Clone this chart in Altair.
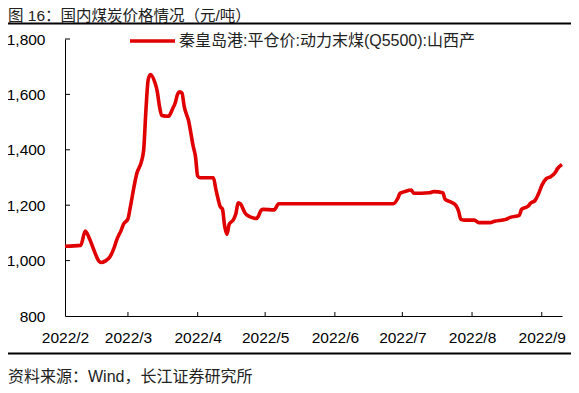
import altair as alt
import pandas as pd

# ---- data ----
dates = [
    "2022-02-01", "2022-02-08", "2022-02-10", "2022-02-12", "2022-02-14", "2022-02-16",
    "2022-02-17", "2022-02-19", "2022-02-21", "2022-02-23", "2022-02-24", "2022-02-26",
    "2022-02-27", "2022-03-01", "2022-03-02", "2022-03-04", "2022-03-05", "2022-03-07",
    "2022-03-08", "2022-03-09", "2022-03-10", "2022-03-11", "2022-03-13", "2022-03-14",
    "2022-03-15", "2022-03-16", "2022-03-19", "2022-03-21", "2022-03-22", "2022-03-23",
    "2022-03-24", "2022-03-25", "2022-03-26", "2022-03-28", "2022-03-30", "2022-03-31",
    "2022-04-01", "2022-04-02", "2022-04-08", "2022-04-09", "2022-04-10", "2022-04-11",
    "2022-04-12", "2022-04-13", "2022-04-14", "2022-04-15", "2022-04-17", "2022-04-18",
    "2022-04-19", "2022-04-20", "2022-04-22", "2022-04-23", "2022-04-25", "2022-04-27",
    "2022-04-28", "2022-04-29", "2022-04-30", "2022-05-05", "2022-05-07", "2022-06-27",
    "2022-06-29", "2022-06-30", "2022-07-02", "2022-07-05", "2022-07-06", "2022-07-13",
    "2022-07-15", "2022-07-19", "2022-07-20", "2022-07-23", "2022-07-25", "2022-07-26",
    "2022-07-27", "2022-07-29", "2022-08-02", "2022-08-04", "2022-08-09", "2022-08-11",
    "2022-08-16", "2022-08-18", "2022-08-22", "2022-08-23", "2022-08-26", "2022-08-27",
    "2022-08-29", "2022-08-31", "2022-09-01", "2022-09-03", "2022-09-05", "2022-09-07",
    "2022-09-08", "2022-09-10",
]
prices = [
    1052, 1055, 1107, 1077, 1035, 999,
    993, 999, 1014, 1050, 1075, 1110,
    1131, 1151, 1191, 1280, 1316, 1358,
    1401, 1545, 1653, 1672, 1642, 1612,
    1557, 1524, 1521, 1551, 1569, 1599,
    1609, 1605, 1557, 1503, 1413, 1377,
    1305, 1299, 1299, 1261, 1225, 1195,
    1186, 1124, 1095, 1131, 1149, 1170,
    1209, 1205, 1173, 1164, 1156, 1152,
    1160, 1179, 1185, 1183, 1205, 1205,
    1225, 1243, 1249, 1255, 1243, 1245,
    1249, 1245, 1222, 1210, 1197, 1179,
    1149, 1146, 1146, 1137, 1137, 1142,
    1149, 1156, 1163, 1185, 1197, 1207,
    1217, 1250, 1271, 1296, 1303, 1318,
    1332, 1347,
]
series_name = "秦皇岛港:平仓价:动力末煤(Q5500):山西产"
y_ticks = [800, 1000, 1200, 1400, 1600, 1800]
x_ticks = ["2022-02-01", "2022-03-01", "2022-04-01", "2022-05-01",
           "2022-06-01", "2022-07-01", "2022-08-01", "2022-09-01"]
x_domain = ["2022-02-01", "2022-09-10"]
title_text = "图 16：国内煤炭价格情况（元/吨）"
source_text = "资料来源：Wind，长江证券研究所"

# ---- layout / style ----
W, H = 497, 277
FONT = "Liberation Sans, Arial, Noto Sans CJK SC"
RED = "#E00000"


def dt(s):
    y, m, d = map(int, s.split("-"))
    return alt.DateTime(year=y, month=m, date=d, utc=True)


df = pd.DataFrame({"date": dates, "price": prices, "series": series_name})

x_scale = alt.Scale(type="utc", domain=[dt(s) for s in x_domain])
y_scale = alt.Scale(domain=[y_ticks[0], y_ticks[-1]], nice=False, zero=False)

x_axis = alt.Axis(values=[dt(s) for s in x_ticks],
                  labelExpr="utcyear(datum.value) + '/' + (utcmonth(datum.value) + 1)",
                  title=None, ticks=False, grid=False, domainColor="#000",
                  domainWidth=1, labelFontSize=15.5, labelFont=FONT, labelColor="#000",
                  labelPadding=14, labelFlush=False, labelOverlap=False)
y_axis = alt.Axis(values=y_ticks, labelExpr="format(datum.value, ',.0f')",
                  title=None, ticks=False, grid=False,
                  domainColor="#000", domainWidth=1, labelFontSize=15.5, labelFont=FONT,
                  labelColor="#000", labelPadding=20)

line = alt.Chart(df).mark_line(strokeWidth=3.6, interpolate="monotone").encode(
    x=alt.X("date:T", scale=x_scale, axis=x_axis),
    y=alt.Y("price:Q", scale=y_scale, axis=y_axis),
    color=alt.Color("series:N", scale=alt.Scale(range=[RED]),
                    legend=alt.Legend(title=None, orient="none", legendX=63, legendY=-22.5,
                                      symbolType="stroke", symbolSize=2025,
                                      symbolStrokeWidth=3.6, labelFontSize=16,
                                      labelFont=FONT, labelColor="#222", labelLimit=0,
                                      padding=0, labelOffset=2)),
)

xt_df = pd.DataFrame({"date": x_ticks[1:]})
xticks = alt.Chart(xt_df).mark_rule(color="#000", strokeWidth=1).encode(
    x=alt.X("date:T", scale=x_scale, axis=None),
    y=alt.value(H - 4), y2=alt.value(H),
)
yt_df = pd.DataFrame({"price": y_ticks[1:]})
yticks = alt.Chart(yt_df).mark_rule(color="#000", strokeWidth=1).encode(
    y=alt.Y("price:Q", scale=y_scale, axis=None),
    x=alt.value(0), x2=alt.value(5),
)

one = pd.DataFrame({"t": [title_text]})
title = alt.Chart(one).mark_text(align="left", baseline="middle", fontSize=15.5,
                                 font=FONT, color="#222").encode(
    text="t:N", x=alt.value(-57), y=alt.value(-23.5))
top_rule = alt.Chart(one).mark_rule(color="#000", strokeWidth=2).encode(
    x=alt.value(-57), x2=alt.value(W + 9), y=alt.value(-15.5))
bottom_rule = alt.Chart(one).mark_rule(color="#000", strokeWidth=2).encode(
    x=alt.value(-57), x2=alt.value(W + 9), y=alt.value(314.5))
src = alt.Chart(pd.DataFrame({"t": [source_text]})).mark_text(
    align="left", baseline="middle", fontSize=16, font=FONT, color="#222").encode(
    text="t:N", x=alt.value(-57), y=alt.value(338))

chart = alt.layer(line, xticks, yticks, title, top_rule, bottom_rule, src).properties(
    width=W, height=H,
    autosize=alt.AutoSizeParams(type="none"),
    padding={"left": 57, "top": 31, "right": 9, "bottom": 69},
).resolve_axis(x="independent", y="independent").configure_view(stroke=None)

chart.save("out.html", embed_options={"renderer": "svg", "actions": False})
